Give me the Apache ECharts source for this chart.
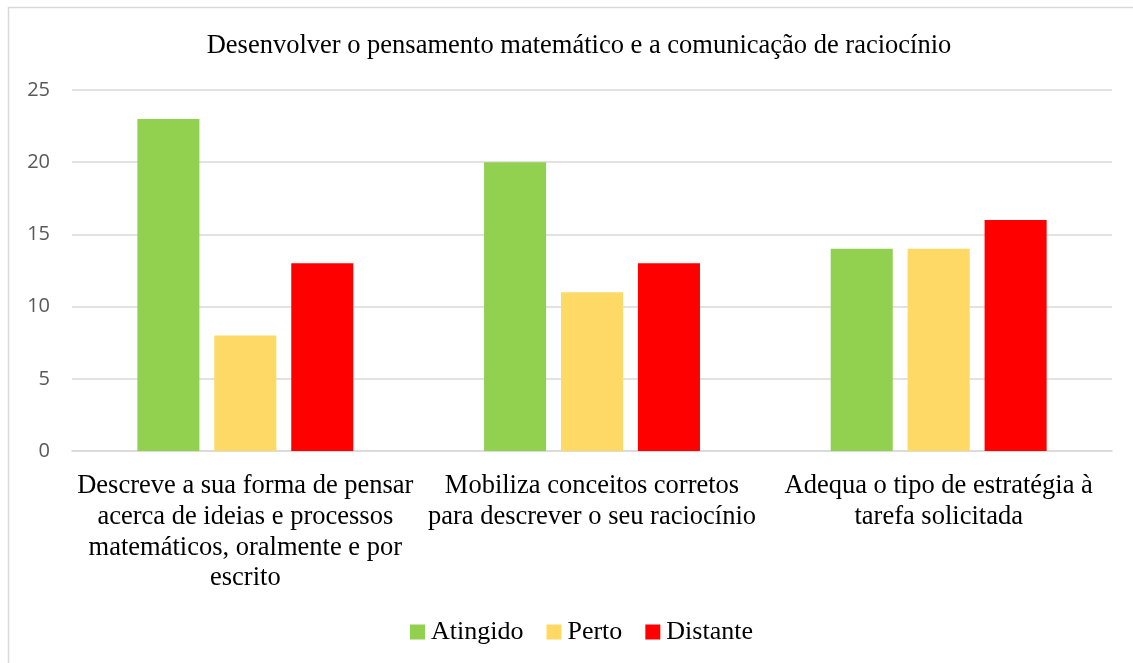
<!DOCTYPE html>
<html><head><meta charset="utf-8">
<script src="https://cdn.jsdelivr.net/npm/echarts@6/dist/echarts.min.js"></script>
<style>html,body{margin:0;padding:0;background:#fff}#c{width:1133px;height:663px}</style>
</head><body><div id="c"></div>
<script>
const title = 'Desenvolver o pensamento matemático e a comunicação de raciocínio';
const categories = [
  'Descreve a sua forma de pensar\nacerca de ideias e processos\nmatemáticos, oralmente e por\nescrito',
  'Mobiliza conceitos corretos\npara descrever o seu raciocínio',
  'Adequa o tipo de estratégia à\ntarefa solicitada'
];
const seriesNames = ['Atingido', 'Perto', 'Distante'];
const atingido = [23, 20, 14];
const perto = [8, 11, 14];
const distante = [13, 13, 16];
const colors = ['#92D050', '#FFD966', '#FF0000'];
const serif = '"Liberation Serif", "DejaVu Serif", serif';

const chart = echarts.init(document.getElementById('c'));
const values = [atingido, perto, distante];
chart.setOption({
  animation: false,
  graphic: [{ type: 'rect', shape: { x: 8.5, y: 7.5, width: 1200, height: 700 }, style: { fill: 'none', stroke: '#D9D9D9', lineWidth: 1.5 } }],
  title: { text: title, left: 574, textAlign: 'center', top: 28, textStyle: { fontFamily: serif, fontSize: 26.5, fontWeight: 'normal', color: '#000' } },
  legend: {
    top: 614, left: 405, itemWidth: 15, itemHeight: 15, itemGap: 23,
    icon: 'rect',
    textStyle: { fontFamily: serif, fontSize: 26, color: '#000', padding: [0, 0, 0, 1] }
  },
  grid: { left: 72, right: 21, top: 90, bottom: 212 },
  xAxis: {
    type: 'category', data: categories,
    axisTick: { show: false },
    axisLine: { lineStyle: { color: '#D9D9D9', width: 1.5 } },
    axisLabel: { interval: 0, fontFamily: serif, fontSize: 26.5, color: '#000', lineHeight: 30.7, margin: 20 }
  },
  yAxis: {
    type: 'value', min: 0, max: 25, interval: 5,
    axisLine: { show: false }, axisTick: { show: false },
    splitLine: { lineStyle: { color: '#D9D9D9', width: 1.5 } },
    axisLabel: { fontFamily: '"Open Sans", "Liberation Sans", sans-serif', fontSize: 20, color: '#595959', margin: 22 }
  },
  series: seriesNames.map((n, i) => ({
    name: n, type: 'bar', data: values[i], barWidth: '17.9%', barGap: '24%',
    itemStyle: { color: colors[i] }
  }))
});
</script></body></html>
